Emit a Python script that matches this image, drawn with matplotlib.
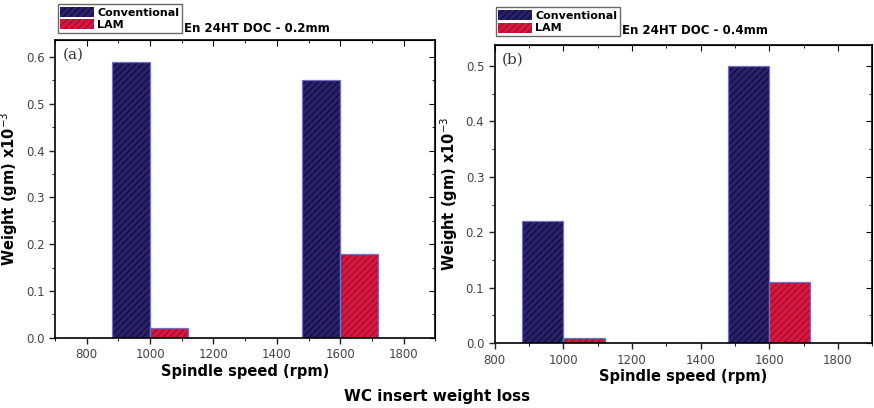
import matplotlib
matplotlib.use("Agg")
import matplotlib.pyplot as plt
import matplotlib.patches as mpatches
import matplotlib.ticker as mticker

SPEEDS = [1000, 1600]
SERIES = ["Conventional", "LAM"]
CONV_A = [0.59, 0.55]
LAM_A = [0.02, 0.18]
CONV_B = [0.22, 0.50]
LAM_B = [0.01, 0.11]
TITLES = ["En 24HT DOC - 0.2mm", "En 24HT DOC - 0.4mm"]
PANEL_TAGS = ["(a)", "(b)"]

COLORS = {"Conventional": "#2a2070", "LAM": "#d8163e"}
HATCH_COLORS = {"Conventional": "#0a0a18", "LAM": "#8a0c2a"}
BAR_WIDTH = 120

plt.rcParams["hatch.linewidth"] = 0.7
plt.rcParams["font.family"] = "DejaVu Sans"

fig = plt.figure(figsize=(8.74, 4.08), dpi=100)
ax_a = fig.add_axes([0.063, 0.172, 0.435, 0.730])
ax_b = fig.add_axes([0.566, 0.159, 0.432, 0.731])


def draw_panel(ax, conv, lam, xlim, ylim, yticks, title, tag, leg_pos, title_pos):
    for name, vals, offset in [("Conventional", conv, -BAR_WIDTH / 2), ("LAM", lam, BAR_WIDTH / 2)]:
        bars = ax.bar(
            [s + offset for s in SPEEDS],
            vals,
            width=BAR_WIDTH,
            color=COLORS[name],
            edgecolor=HATCH_COLORS[name],
            hatch="/////",
            linewidth=0,
        )
        for b in bars:
            ax.add_patch(mpatches.Rectangle(
                b.get_xy(), b.get_width(), b.get_height(),
                fill=False, edgecolor="#7070c8", linewidth=0.9,
            ))
    ax.set_xlim(*xlim)
    ax.set_ylim(*ylim)
    ax.set_xticks([800, 1000, 1200, 1400, 1600, 1800])
    ax.xaxis.set_minor_locator(mticker.MultipleLocator(100))
    ax.set_yticks(yticks)
    ax.yaxis.set_minor_locator(mticker.MultipleLocator(0.05))
    ax.yaxis.set_major_formatter(mticker.FormatStrFormatter("%.1f"))
    ax.tick_params(axis="both", which="both", direction="out", labelsize=8.5,
                   colors="#222222", labelcolor="#444444")
    ax.tick_params(which="major", length=4, width=1)
    ax.tick_params(which="minor", length=2.5, width=0.8)
    sec_x = ax.secondary_xaxis("top")
    sec_x.set_xticks([800, 1000, 1200, 1400, 1600, 1800])
    sec_x.xaxis.set_minor_locator(mticker.MultipleLocator(100))
    sec_x.tick_params(which="both", direction="in", labeltop=False)
    sec_x.tick_params(which="major", length=4)
    sec_x.tick_params(which="minor", length=2.5)
    sec_y = ax.secondary_yaxis("right")
    sec_y.set_yticks(yticks)
    sec_y.yaxis.set_minor_locator(mticker.MultipleLocator(0.05))
    sec_y.tick_params(which="both", direction="in", labelright=False)
    sec_y.tick_params(which="major", length=4)
    sec_y.tick_params(which="minor", length=2.5)
    for sp in ax.spines.values():
        sp.set_linewidth(1.2)
    ax.set_xlabel("Spindle speed (rpm)", fontsize=10.5, fontweight="bold", labelpad=2)
    ax.set_ylabel(r"Weight (gm) x10$^{-3}$", fontsize=10.5, fontweight="bold")
    ax.text(0.02, 0.975, tag, transform=ax.transAxes, ha="left", va="top",
            fontsize=11, family="DejaVu Serif", color="#333333")

    handles = [mpatches.Patch(facecolor=COLORS[n], edgecolor=HATCH_COLORS[n],
                              hatch="/////", linewidth=0, label=n) for n in SERIES]
    leg = fig.legend(handles=handles, loc="upper left", bbox_to_anchor=leg_pos,
                     frameon=True, fancybox=False, fontsize=8, handlelength=3.0,
                     handleheight=1.0, handletextpad=0.3, borderpad=0.25,
                     labelspacing=0.15, borderaxespad=0)
    leg.get_frame().set_edgecolor("#444444")
    leg.get_frame().set_linewidth(1.0)
    for t in leg.get_texts():
        t.set_fontweight("bold")
    fig.text(title_pos[0], title_pos[1], title, fontsize=8.5, fontweight="bold",
             ha="left", va="center")


draw_panel(ax_a, CONV_A, LAM_A, (700, 1900), (0, 0.636), [0.0, 0.1, 0.2, 0.3, 0.4, 0.5, 0.6],
           TITLES[0], PANEL_TAGS[0], (0.066, 0.990), (0.21, 0.930))
draw_panel(ax_b, CONV_B, LAM_B, (800, 1900), (0, 0.538), [0.0, 0.1, 0.2, 0.3, 0.4, 0.5],
           TITLES[1], PANEL_TAGS[1], (0.567, 0.982), (0.712, 0.926))

fig.text(0.5, 0.028, "WC insert weight loss", ha="center", va="center",
         fontsize=11, fontweight="bold")

fig.savefig("out.png", dpi=100)
